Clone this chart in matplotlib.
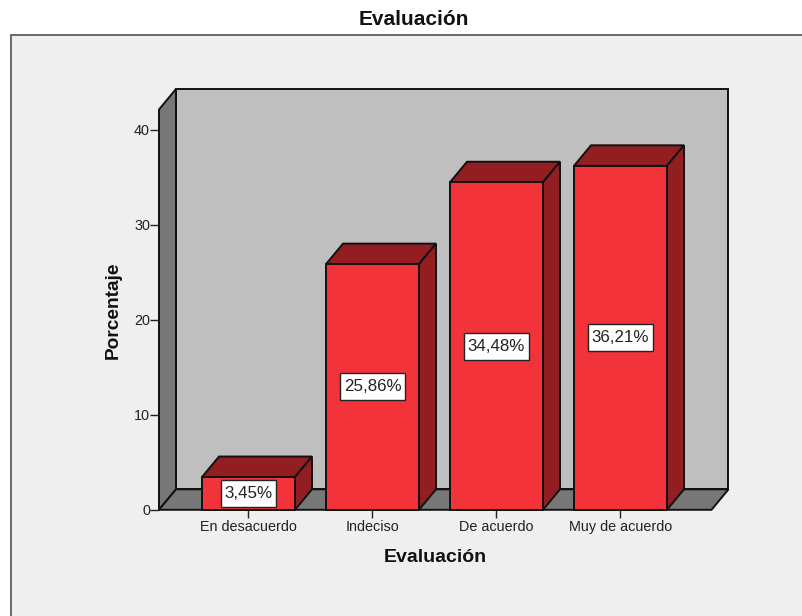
import matplotlib
matplotlib.use("Agg")
import matplotlib.pyplot as plt
from matplotlib.patches import Polygon, Rectangle

categories = ["En desacuerdo", "Indeciso", "De acuerdo", "Muy de acuerdo"]
values = [3.45, 25.86, 34.48, 36.21]
labels = ["3,45%", "25,86%", "34,48%", "36,21%"]
yticks = [0, 10, 20, 30, 40]

W, H = 803, 616
plt.rcParams['font.family'] = ['Liberation Sans', 'DejaVu Sans']
fig = plt.figure(figsize=(W / 100, H / 100), dpi=100, facecolor='white')

# outer frame reaching past the right and bottom edges
frame = Rectangle((11.5 / W, -0.02), 1.0, (H - 34.5) / H + 0.02, transform=fig.transFigure,
                  facecolor='#efefef', edgecolor='#606060', linewidth=1.3, zorder=0)
fig.add_artist(frame)

PX_Y = 9.5
PX_X = 124
L, R, T, B = 159.0, 711.5, 109.5, 509.8
ax = fig.add_axes([L / W, 1 - B / H, (R - L) / W, (B - T) / H])
ax.set_xlim((L - 248.5) / PX_X, (R - 248.5) / PX_X)
ax.set_ylim(0, (B - T) / PX_Y)
ax.patch.set_visible(False)
for s in ax.spines.values():
    s.set_visible(False)

dx, dy = 17.0 / PX_X, 20.5 / PX_Y
x0, x1 = ax.get_xlim()
y0, y1 = ax.get_ylim()
edge = dict(edgecolor='#111111', linewidth=1.4, clip_on=False, joinstyle='miter')

# chart box: back wall, side wall, floor
ax.add_patch(Polygon([(x0 + dx, y0 + dy), (x1 + dx, y0 + dy), (x1 + dx, y1 + dy), (x0 + dx, y1 + dy)],
                     facecolor='#bfbfbf', zorder=1, **edge))
ax.add_patch(Polygon([(x0, y0), (x0 + dx, y0 + dy), (x0 + dx, y1 + dy), (x0, y1)],
                     facecolor='#777777', zorder=2, **edge))
ax.add_patch(Polygon([(x0, y0), (x1, y0), (x1 + dx, y0 + dy), (x0 + dx, y0 + dy)],
                     facecolor='#777777', zorder=2, **edge))

width = 0.75
for i, v in enumerate(values):
    a, b = i - width / 2, i + width / 2
    ax.add_patch(Polygon([(a, v), (b, v), (b + dx, v + dy), (a + dx, v + dy)],
                         facecolor='#931e22', zorder=3, **edge))
    ax.add_patch(Polygon([(b, 0), (b + dx, dy), (b + dx, v + dy), (b, v)],
                         facecolor='#931e22', zorder=3, **edge))
ax.bar(range(len(values)), values, width=width, color='#f2333a', edgecolor='#111111',
       linewidth=1.4, zorder=4, clip_on=False)

renderer = fig.canvas.get_renderer()
for i, (v, t) in enumerate(zip(values, labels)):
    txt = ax.text(i, v / 2, t, ha='center', va='center', fontsize=12.2, color='#222222', zorder=6)
    w_px = txt.get_window_extent(renderer).width + 7
    bw, bh = w_px / PX_X, 27 / PX_Y
    ax.add_patch(Rectangle((i - bw / 2, v / 2 - bh / 2), bw, bh, facecolor='white',
                           edgecolor='#222222', linewidth=1.0, zorder=5, clip_on=False))

ax.set_xticks(range(len(categories)), categories)
ax.set_yticks(yticks)
ax.tick_params(axis='x', length=6, width=1.0, color='#222222', labelsize=10.4,
               labelcolor='#222222', pad=1.5)
ax.tick_params(axis='y', length=6.5, width=1.0, color='#222222', labelsize=10.4,
               labelcolor='#222222', pad=0)

fig.text(413.5 / W, 1 - 19.5 / H, "Evaluación", ha='center', va='center', fontsize=15,
         fontweight='bold', color='#111111')
fig.text(435 / W, 1 - 558 / H, "Evaluación", ha='center', va='center', fontsize=14,
         fontweight='bold', color='#111111')
fig.text(113 / W, 1 - 310 / H, "Porcentaje", ha='center', va='center', rotation=90,
         fontsize=13.8, fontweight='bold', color='#111111')

fig.savefig("out.png", dpi=100)
